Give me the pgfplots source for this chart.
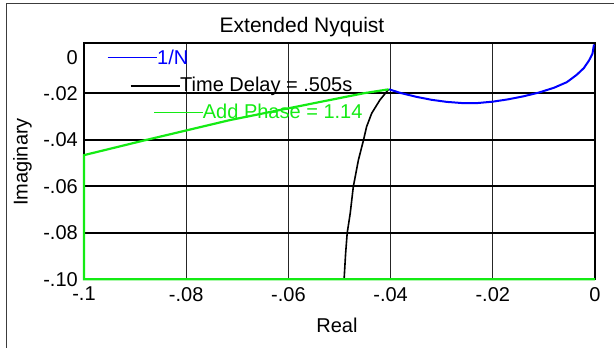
\documentclass[border=0pt]{standalone}
\usepackage{fontspec}
\setmainfont{Liberation Sans}
\usepackage{pgfplots}
\pgfplotsset{compat=1.18}
\definecolor{nblue}{RGB}{0,0,255}
\definecolor{ngreen}{RGB}{20,235,20}
\definecolor{nframe}{RGB}{60,60,60}
\begin{document}
\begin{tikzpicture}
\path[use as bounding box] (0pt,0pt) rectangle (614pt,348pt);
\begin{axis}[
  at={(84pt,68.7pt)}, anchor=south west,
  scale only axis, width=511pt, height=236pt,
  xmin=-0.1, xmax=0, ymin=-0.1, ymax=0.0015,
  clip=false,
  axis line style={line width=2pt, black},
  xtick={-0.1,-0.08,-0.06,-0.04,-0.02,0},
  xticklabels={-.1,-.08,-.06,-.04,-.02,0},
  ytick={-0.1,-0.08,-0.06,-0.04,-0.02},
  yticklabels={-.10,-.08,-.06,-.04,-.02},
  extra y ticks={-0.0046},
  extra y tick labels={0},
  extra y tick style={grid=none},
  major tick length=0pt,
  xmajorgrids, ymajorgrids,
  x grid style={line width=0.9pt, black!85},
  y grid style={line width=2pt, black},
  tick label style={font=\fontsize{20}{24}\selectfont},
  xticklabel style={anchor=north, inner sep=0pt, yshift=-7.7pt},
  yticklabel style={anchor=east, inner sep=0pt, xshift=-6pt},
  scaled ticks=false,
]
\addplot[nblue, line width=2pt] coordinates {
(-0.0403,-0.0183) (-0.038,-0.0199) (-0.035,-0.0215) (-0.032,-0.0228)
(-0.029,-0.0237) (-0.026,-0.0242) (-0.023,-0.0242) (-0.020,-0.0236)
(-0.017,-0.0226) (-0.014,-0.0213) (-0.011,-0.0197) (-0.008,-0.0176)
(-0.0055,-0.0152) (-0.0036,-0.0121) (-0.0022,-0.0092) (-0.0012,-0.0060)
(-0.0005,-0.0030) (-0.0002,0.0010)
};
\addplot[black, line width=1.6pt] coordinates {
(-0.0404,-0.0183) (-0.0421,-0.0229) (-0.0437,-0.0286) (-0.0447,-0.0344)
(-0.0453,-0.0401) (-0.0463,-0.0487) (-0.0473,-0.0602) (-0.0479,-0.0716)
(-0.0485,-0.0802) (-0.0488,-0.0888) (-0.0491,-0.1)
};
\addplot[ngreen, line width=2.2pt] coordinates {
(-0.0404,-0.0183) (-0.0453,-0.0200) (-0.0551,-0.0243) (-0.0714,-0.0315)
(-0.0877,-0.0400) (-0.1,-0.0466) (-0.1,-0.1) (0,-0.1)
};
\end{axis}
% legend-like labels
\draw[nblue, line width=1.6pt] (107.5pt,290.3pt) -- (157pt,290.3pt);
\node[anchor=base west, inner sep=0pt, text=nblue, font=\fontsize{20}{24}\selectfont] at (157pt,283.7pt) {1/N};
\draw[black, line width=1.6pt] (130.7pt,262pt) -- (180pt,262pt);
\node[anchor=base west, inner sep=0pt, text=black, font=\fontsize{20}{24}\selectfont] at (180pt,256.3pt) {Time Delay = .505s};
\draw[ngreen, line width=1.6pt] (154pt,235.3pt) -- (202.7pt,235.3pt);
\node[anchor=base west, inner sep=0pt, text=ngreen, font=\fontsize{20}{24}\selectfont] at (202.7pt,229.7pt) {Add Phase = 1.14};
% title and axis labels
\node[anchor=base, inner sep=0pt, font=\fontsize{21}{25}\selectfont] at (302pt,315.3pt) {Extended Nyquist};
\node[anchor=base, inner sep=0pt, font=\fontsize{20}{24}\selectfont] at (337pt,15pt) {Real};
\node[anchor=center, inner sep=0pt, rotate=90, font=\fontsize{20}{24}\selectfont] at (22.5pt,186pt) {Imaginary};
% outer frame
\draw[nframe, line width=1pt] (6.5pt,-10pt) -- (6.5pt,344.5pt) -- (630pt,344.5pt);
\end{tikzpicture}
\end{document}
